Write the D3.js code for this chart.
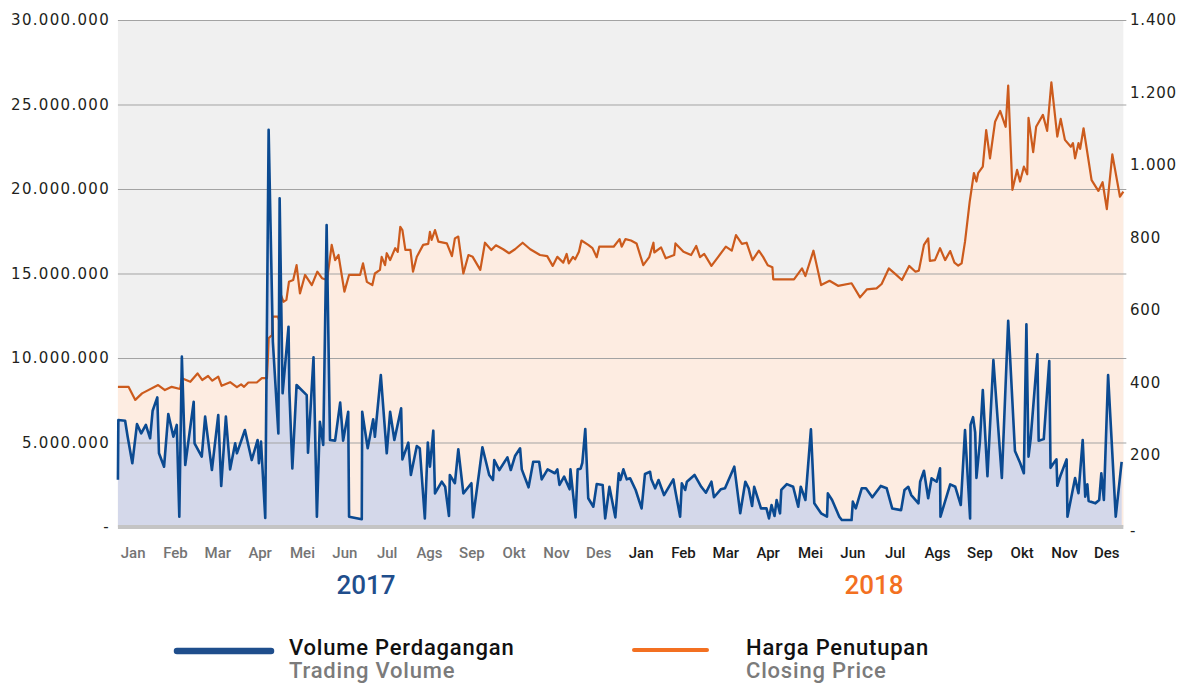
<!DOCTYPE html>
<html><head><meta charset="utf-8">
<script src="https://cdn.jsdelivr.net/npm/d3@7"></script>
<style>body{margin:0;background:#fff;} svg{display:block;}</style>
</head><body><svg id="c" width="1184" height="684"></svg>
<script>
// ---------- DATA ----------
const months = ["Jan","Feb","Mar","Apr","Mei","Jun","Jul","Ags","Sep","Okt","Nov","Des"];
const years = ["2017","2018"];
const volumeTicks = [0,5,10,15,20,25,30];          // millions of shares
const priceTicks = [0,200,400,600,800,1000,1200,1400];

// time in months since 1 Jan 2017
const priceT = [0.14,0.39,0.55,0.71,1.09,1.25,1.41,1.61,1.65,1.85,2.02,2.13,2.27,2.37,2.51,2.59,2.79,2.95,3.05,3.12,3.22,3.42,3.54,3.66,3.68,3.70,3.78,3.79,3.92,3.97,3.99,4.05,4.12,4.18,4.28,4.36,4.44,4.56,4.72,4.85,4.96,5.08,5.19,5.27,5.35,5.49,5.60,5.86,5.93,6.02,6.15,6.21,6.33,6.37,6.45,6.49,6.57,6.69,6.75,6.81,6.86,6.93,7.05,7.11,7.20,7.35,7.47,7.51,7.55,7.63,7.71,7.91,8.03,8.10,8.18,8.30,8.42,8.52,8.70,8.81,8.96,9.07,9.24,9.38,9.52,9.70,9.88,10.11,10.28,10.41,10.52,10.66,10.74,10.79,10.89,10.94,11.03,11.09,11.25,11.35,11.45,11.51,11.85,11.99,12.04,12.13,12.26,12.39,12.55,12.69,12.79,12.81,12.97,13.08,13.28,13.31,13.50,13.68,13.80,13.89,13.99,14.16,14.32,14.50,14.64,14.74,14.88,14.99,15.13,15.28,15.38,15.49,15.60,15.62,16.11,16.30,16.38,16.57,16.75,16.95,17.15,17.47,17.67,17.83,18.06,18.18,18.35,18.50,18.66,18.83,18.98,19.06,19.18,19.28,19.32,19.44,19.56,19.68,19.80,19.90,19.99,20.07,20.15,20.26,20.36,20.42,20.46,20.57,20.65,20.74,20.86,20.98,21.11,21.17,21.27,21.38,21.45,21.54,21.62,21.65,21.76,21.83,21.99,22.09,22.19,22.33,22.41,22.51,22.65,22.70,22.75,22.83,22.87,22.95,23.14,23.30,23.40,23.50,23.63,23.81,23.89];
const priceV = [387,387,351,369,392,378,387,381,411,401,424,406,417,404,415,390,400,386,394,387,399,399,411,411,461,521,530,581,581,563,641,622,627,677,682,723,645,696,668,705,687,682,779,737,751,650,696,696,728,677,668,700,710,746,723,756,737,770,760,829,820,765,765,705,746,779,782,815,793,820,788,783,748,797,802,700,751,746,710,785,765,778,767,756,767,785,767,751,748,721,746,730,754,728,746,739,760,791,779,770,745,774,774,795,774,795,791,783,723,745,785,758,772,742,751,783,760,751,776,745,754,721,746,774,763,806,782,785,737,763,746,723,717,684,684,714,693,763,668,680,666,673,634,656,659,671,714,699,682,721,705,708,779,797,735,737,770,737,762,730,722,728,788,898,977,954,977,995,1096,1018,1119,1149,1105,1219,931,986,954,995,974,1130,1035,1105,1138,1094,1228,1078,1127,1069,1050,1060,1018,1060,1044,1101,958,928,952,878,1029,912,926];

const volT = [0.14,0.15,0.31,0.37,0.48,0.59,0.69,0.80,0.90,0.96,1.07,1.11,1.23,1.33,1.45,1.53,1.59,1.65,1.73,1.93,1.95,2.12,2.20,2.36,2.51,2.58,2.69,2.79,2.91,2.95,3.14,3.30,3.44,3.47,3.52,3.62,3.70,3.80,3.93,3.96,4.03,4.17,4.19,4.26,4.36,4.60,4.63,4.76,4.84,4.91,4.99,5.07,5.15,5.27,5.39,5.46,5.58,5.60,5.90,5.91,6.04,6.17,6.21,6.35,6.49,6.57,6.67,6.83,6.86,7.00,7.06,7.20,7.27,7.39,7.46,7.51,7.59,7.63,7.79,7.87,7.96,7.98,8.10,8.18,8.30,8.49,8.53,8.67,8.75,8.91,9.00,9.03,9.15,9.34,9.42,9.52,9.64,9.68,9.84,9.95,10.09,10.15,10.29,10.46,10.52,10.57,10.68,10.81,10.83,10.95,11.00,11.07,11.11,11.18,11.25,11.37,11.45,11.59,11.65,11.75,11.89,11.97,12.01,12.08,12.16,12.24,12.37,12.51,12.59,12.71,12.74,12.83,12.91,13.04,13.26,13.30,13.42,13.46,13.54,13.58,13.76,13.92,14.03,14.16,14.22,14.38,14.48,14.70,14.84,14.96,15.04,15.12,15.17,15.33,15.46,15.52,15.58,15.65,15.70,15.78,15.81,15.94,16.09,16.21,16.27,16.38,16.51,16.59,16.75,16.89,16.91,17.01,17.18,17.24,17.47,17.50,17.57,17.71,17.81,17.96,18.16,18.30,18.43,18.64,18.72,18.81,18.88,19.05,19.09,19.18,19.28,19.36,19.48,19.56,19.57,19.80,19.92,20.05,20.15,20.27,20.28,20.34,20.39,20.42,20.50,20.57,20.68,20.82,21.02,21.17,21.33,21.45,21.54,21.60,21.65,21.70,21.86,21.89,22.01,22.14,22.17,22.25,22.31,22.33,22.40,22.55,22.57,22.75,22.83,22.93,22.99,23.04,23.07,23.23,23.32,23.37,23.43,23.53,23.71,23.85];
const volV = [2.8,6.33,6.29,5.34,3.77,6.09,5.54,6.04,5.25,6.88,7.67,4.36,3.57,6.69,5.34,6.04,0.61,10.08,3.67,7.41,4.95,4.16,6.53,3.37,6.63,2.43,6.53,3.41,4.95,4.36,5.74,3.96,5.15,3.77,5.05,0.53,23.5,10.96,5.54,19.45,7.91,11.85,8.0,3.47,8.4,7.8,4.4,10.04,0.61,6.23,4.85,17.87,5.15,5.11,7.36,5.11,6.82,0.61,0.46,6.82,4.66,6.37,5.34,8.99,4.36,6.82,5.15,7.02,4.0,4.99,3.08,4.79,4.66,0.51,4.99,3.57,5.7,1.99,2.68,2.38,0.65,3.08,2.59,4.6,1.99,2.59,0.57,3.18,4.72,3.08,2.78,3.96,3.37,4.12,3.37,4.2,4.66,3.41,2.35,3.86,3.86,2.82,3.41,3.18,3.41,2.49,2.98,2.23,3.41,0.57,3.41,3.45,3.8,5.8,1.7,1.2,2.54,2.49,0.51,2.38,0.57,3.18,2.78,3.41,2.82,2.88,2.19,1.1,3.14,3.27,2.82,2.29,2.78,1.89,2.82,2.23,0.61,2.59,2.19,2.68,3.08,2.38,2.03,2.68,1.76,2.23,2.29,3.57,0.81,2.68,2.29,1.24,2.38,1.1,1.1,0.51,1.3,0.65,1.6,0.81,2.19,2.54,2.38,1.2,2.38,1.6,5.78,1.4,0.81,0.61,1.99,1.6,0.61,0.41,0.41,1.5,1.1,2.29,2.29,1.76,2.43,2.29,1.1,1.0,2.19,2.38,1.89,1.4,2.68,3.33,1.7,2.88,2.68,3.47,0.61,2.52,2.38,1.3,5.74,0.51,6.04,6.5,5.6,2.9,5.0,8.1,3.0,9.88,2.9,12.2,4.5,3.8,3.18,12.0,4.16,5.2,10.22,5.1,5.2,9.82,3.5,3.8,4.0,2.44,3.0,4.0,0.61,2.9,2.0,5.15,1.8,2.53,1.54,1.4,1.6,3.18,1.6,8.99,0.61,3.86];

const legendItems = [
  {id:"Volume Perdagangan", en:"Trading Volume"},
  {id:"Harga Penutupan", en:"Closing Price"}
];

// ---------- CHART ----------
const svg = d3.select("#c");
const x = d3.scaleLinear().domain([0,24]).range([112,1128]);
const yL = d3.scaleLinear().domain([0,30]).range([527,20]);
const yR = d3.scaleLinear().domain([0,1400]).range([527,20]);
const locale = d3.formatLocale({decimal:",", thousands:".", grouping:[3], currency:["",""]});
const fmt = locale.format(",");

const price = priceT.map((t,i)=>({t, v:priceV[i]}));
const vol = volT.map((t,i)=>({t, v:volV[i]}));

const bgX0 = x(price[0].t), bgX1 = x(price[price.length-1].t);

// plot background
svg.append("rect").attr("x", bgX0).attr("y", yL(30)).attr("width", bgX1-bgX0).attr("height", yL(0)-yL(30)).attr("fill","#f0f0f0");

// areas
const areaP = d3.area().x(d=>x(d.t)).y0(yR(0)).y1(d=>yR(d.v));
svg.append("path").datum(price).attr("d", areaP).attr("fill","#fdece1");
const areaV = d3.area().x(d=>x(d.t)).y0(yL(0)).y1(d=>yL(d.v));
svg.append("path").datum(vol).attr("d", areaV).attr("fill","#d4d8ea");

// gridlines
svg.append("g").selectAll("line").data(volumeTicks.filter(d=>d>0)).join("line")
  .attr("x1", bgX0).attr("x2", bgX1+3)
  .attr("y1", d=>yL(d)+0.5).attr("y2", d=>yL(d)+0.5)
  .attr("stroke","#a3a3a3").attr("stroke-width",1);

// baseline bar
svg.append("rect").attr("x", bgX0).attr("y", yL(0)-2).attr("width", bgX1-bgX0).attr("height", 4).attr("fill","#c4c4c4");

// lines
const lineP = d3.line().x(d=>x(d.t)).y(d=>yR(d.v));
svg.append("path").datum(price).attr("d", lineP).attr("fill","none")
  .attr("stroke","#cc5b1d").attr("stroke-width",2.2).attr("stroke-linejoin","round");
const lineV = d3.line().x(d=>x(d.t)).y(d=>yL(d.v));
svg.append("path").datum(vol).attr("d", lineV).attr("fill","none")
  .attr("stroke","#0b4a91").attr("stroke-width",2.6).attr("stroke-linejoin","round");

// left axis labels
svg.append("g").selectAll("text").data(volumeTicks).join("text")
  .attr("x", 110).attr("y", d=>yL(d)).attr("dy","0.36em")
  .attr("text-anchor","end")
  .attr("font-family","DejaVu Sans").attr("font-size",15).attr("letter-spacing","1.3px")
  .attr("fill","#231f20")
  .text(d=> d===0 ? "-" : fmt(d*1e6));

// right axis labels
svg.append("g").selectAll("text").data(priceTicks).join("text")
  .attr("x", 1130).attr("y", d=>yR(d)).attr("dy", d=> d===0 ? "0.6em" : "0.36em")
  .attr("text-anchor","start")
  .attr("font-family","DejaVu Sans").attr("font-size",15).attr("letter-spacing","0.8px")
  .attr("fill","#231f20")
  .text(d=> d===0 ? "-" : fmt(d));

// month labels
const monthData = [];
years.forEach((yr,yi)=>months.forEach((m,mi)=>monthData.push({m, yi, i: yi*12+mi})));
svg.append("g").selectAll("text").data(monthData).join("text")
  .attr("x", d=>x(d.i+0.5)).attr("y", 558)
  .attr("text-anchor","middle")
  .attr("font-family","Roboto").attr("font-size",15).attr("font-weight",500)
  .attr("fill", d=> d.yi===0 ? "#747474" : "#1a1a1a")
  .text(d=>d.m);

// year labels
const yearColors = ["#1f4e8c","#f37021"];
svg.append("g").selectAll("text").data(years).join("text")
  .attr("x", (d,i)=>x(i*12+6)).attr("y", 594)
  .attr("text-anchor","middle")
  .attr("font-family","Roboto").attr("font-size",26).attr("font-weight",500)
  .attr("fill",(d,i)=>yearColors[i])
  .text(d=>d);

// legend
const lg = svg.append("g");
lg.append("line").attr("x1",177).attr("x2",271).attr("y1",651).attr("y2",651)
  .attr("stroke","#1f4e8c").attr("stroke-width",6.5).attr("stroke-linecap","round");
lg.append("line").attr("x1",634).attr("x2",707).attr("y1",650).attr("y2",650)
  .attr("stroke","#f37021").attr("stroke-width",4).attr("stroke-linecap","round");
const lgX = [289, 746];
legendItems.forEach((it,i)=>{
  lg.append("text").attr("x",lgX[i]).attr("y",655)
    .attr("font-family","Roboto").attr("font-size",22).attr("font-weight",500).attr("letter-spacing","0.8px")
    .attr("fill","#111").text(it.id);
  lg.append("text").attr("x",lgX[i]).attr("y",678)
    .attr("font-family","Roboto").attr("font-size",22).attr("font-weight",500).attr("letter-spacing","0.8px")
    .attr("fill","#7b7b7b").text(it.en);
});
</script></body></html>
